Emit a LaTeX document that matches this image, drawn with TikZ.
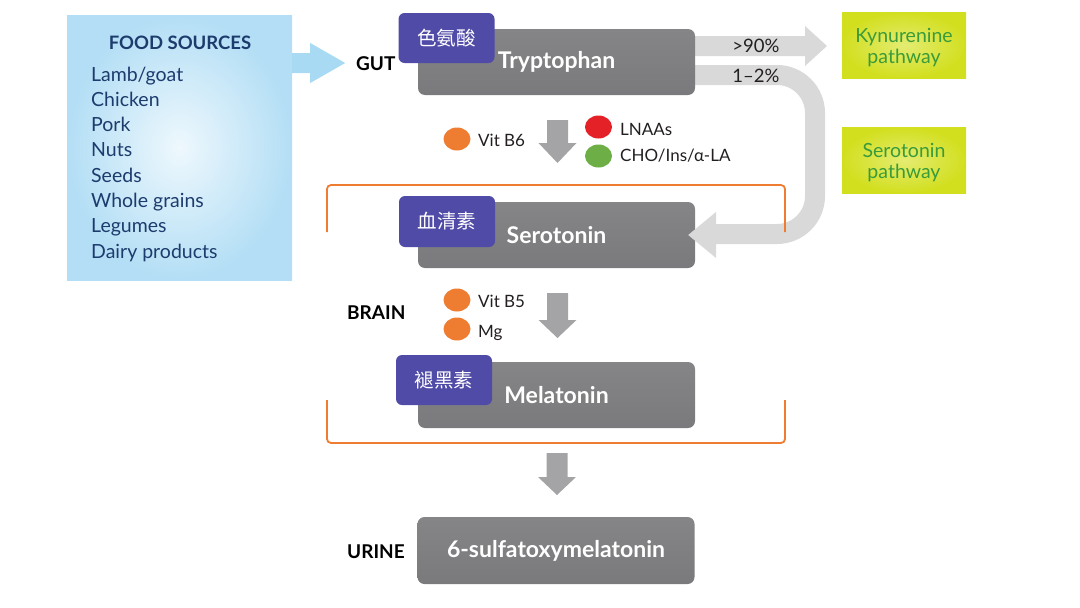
\documentclass[tikz,border=0pt]{standalone}
\usepackage{fontspec}
\setmainfont{Lato}
\newfontfamily\cjkfont{Noto Sans CJK SC}
\usetikzlibrary{shapes.geometric,calc}
\definecolor{tagpurple}{HTML}{514BA8}
\definecolor{boxtop}{HTML}{858588}
\definecolor{boxmid}{HTML}{9A9A9D}
\definecolor{boxbot}{HTML}{7A7A7D}
\definecolor{lightarrow}{HTML}{D9D9D9}
\definecolor{darkarrow}{HTML}{A4A4A6}
\definecolor{brk}{HTML}{EE7D31}
\definecolor{dotor}{HTML}{EE7D31}
\definecolor{dotred}{HTML}{E42127}
\definecolor{dotgreen}{HTML}{6DAE46}
\definecolor{foodout}{HTML}{B3DEF5}
\definecolor{foodin}{HTML}{EEF8FD}
\definecolor{foodarrow}{HTML}{A9DAF4}
\definecolor{foodtext}{HTML}{1D3C6E}
\definecolor{pathout}{HTML}{D2DF1F}
\definecolor{pathin}{HTML}{E4EC72}
\definecolor{pathtext}{HTML}{3A9B3A}
\definecolor{labtext}{HTML}{231F20}
\newcommand\fs[1]{\fontsize{#1}{#1}\selectfont}
\newcommand\blockdown[4]{% x center, top, head start, tip
  \fill[darkarrow] (#1-10.5,#2) -- (#1+10.5,#2) -- (#1+10.5,#3) -- (#1+19,#3) -- (#1,#4) -- (#1-19,#3) -- (#1-10.5,#3) -- cycle;}
\begin{document}
\begin{tikzpicture}[x=1pt,y=-1pt,
  graybox/.style={rectangle, rounded corners=7, top color=boxtop, middle color=boxmid, bottom color=boxbot, minimum width=277, minimum height=66, inner sep=0, text=white, font=\bfseries\fs{23}},
  tag/.style={rectangle, rounded corners=6, fill=tagpurple, minimum width=96, minimum height=50, inner sep=0, text=white, font=\cjkfont\fs{19.5}},
  pathbox/.style={rectangle, inner color=pathin, outer color=pathout, minimum width=124, minimum height=66, inner sep=0},
  pathlab/.style={text=pathtext, align=center, inner sep=0, font=\fontsize{19.5}{21}\selectfont},
  region/.style={font=\bfseries\fs{19}, text=black, anchor=base west, inner sep=0},
  dot/.style={ellipse, minimum width=27, minimum height=23, inner sep=0},
  dotlab/.style={font=\fs{17}, text=labtext, anchor=base west, inner sep=0},
  pct/.style={font=\fs{18.5}, text=labtext, anchor=base, inner sep=0},
  foodlab/.style={font=\fs{19.5}, text=foodtext, anchor=base west, inner sep=0},
  bracket/.style={draw=brk, line width=1.8, rounded corners=4}
]
\useasboundingbox (0,0) rectangle (1080,608);

% food sources
\node[rectangle, inner color=foodin, outer color=foodout, minimum width=225, minimum height=265, inner sep=0] (food) at (179.5,147.5) {};
\node[font=\bfseries\fs{18.5}, text=foodtext, anchor=base, inner sep=0] (foodtitle) at (180,49) {FOOD SOURCES};
\foreach \t [count=\i from 0] in {Lamb/goat,Chicken,Pork,Nuts,Seeds,Whole grains,Legumes,Dairy products}
  \node[foodlab] (food\i) at (91,81+25.3*\i) {\t};

% blue arrow
\coordinate (fa) at (food.east |- 0,63);
\fill[foodarrow] ($(fa)+(0,-10)$) -- ++(18,0) -- ++(0,-10) -- ++(35,20) -- ++(-35,20) -- ++(0,-10) -- ++(-18,0) -- cycle;

% light arrows behind tryptophan
\fill[lightarrow] (688,36) -- (805,36) -- (805,26) -- (827,46) -- (805,66) -- (805,56) -- (688,56) -- cycle;
\draw[lightarrow, line width=20, rounded corners=38] (688,75) -- (815,75) -- (815,234) -- (716,234);

% gray boxes
\node[graybox] (tryp) at (556.5,62) {Tryptophan};
\node[graybox] (sero) at (556.5,235) {Serotonin};
\node[graybox] (mela) at (556.5,395) {Melatonin};
\node[graybox, minimum height=67] (sulf) at (556,550.5) {6-sulfatoxymelatonin};

% tags
\node[tag] (tagtryp) at (446.5,38) {色氨酸};
\node[tag, minimum height=51] (tagsero) at (447,221.5) {血清素};
\node[tag] (tagmela) at (444,380) {褪黑素};

% head of curved arrow
\fill[lightarrow] (716,212) -- ([xshift=-7]sero.east) -- (716,258) -- cycle;

% percentages
\node[pct] (p90) at (756,52) {>90\%};
\node[pct] (p12) at (756,82) {1–2\%};

% pathway boxes
\node[pathbox] (kyn) at (904,45) {};
\node[pathlab] (kynl) at ([yshift=-2.5pt]kyn.center) {Kynurenine\\pathway};
\node[pathbox] (serp) at (904,160) {};
\node[pathlab] (serpl) at ([yshift=-2.5pt]serp.center) {Serotonin\\pathway};

% region labels
\node[region] (gut) at (356,70) {GUT};
\node[region] (brain) at (347,319) {BRAIN};
\node[region] (urine) at (347,558) {URINE};

% down arrows
\blockdown{557.5}{120}{143}{163}
\blockdown{557.5}{293}{320}{338}
\blockdown{557}{453}{477}{495}

% cofactors
\node[dot, fill=dotor] (b6) at (457,139) {};
\node[dotlab] (b6l) at (478,146) {Vit B6};
\node[dot, fill=dotred] (lnaa) at (598.5,127) {};
\node[dotlab] (lnaal) at (620,135) {LNAAs};
\node[dot, fill=dotgreen] (cho) at (598.5,156) {};
\node[dotlab] (chol) at (620,161) {CHO/Ins/α-LA};
\node[dot, fill=dotor] (b5) at (457,300) {};
\node[dotlab] (b5l) at (478,307) {Vit B5};
\node[dot, fill=dotor] (mg) at (457,329) {};
\node[dotlab] (mgl) at (478,337) {Mg};

% brackets
\draw[bracket] (327,232) -- (327,185) -- (785,185) -- (785,232);
\draw[bracket] (327,400) -- (327,443) -- (785,443) -- (785,400);
\end{tikzpicture}
\end{document}
